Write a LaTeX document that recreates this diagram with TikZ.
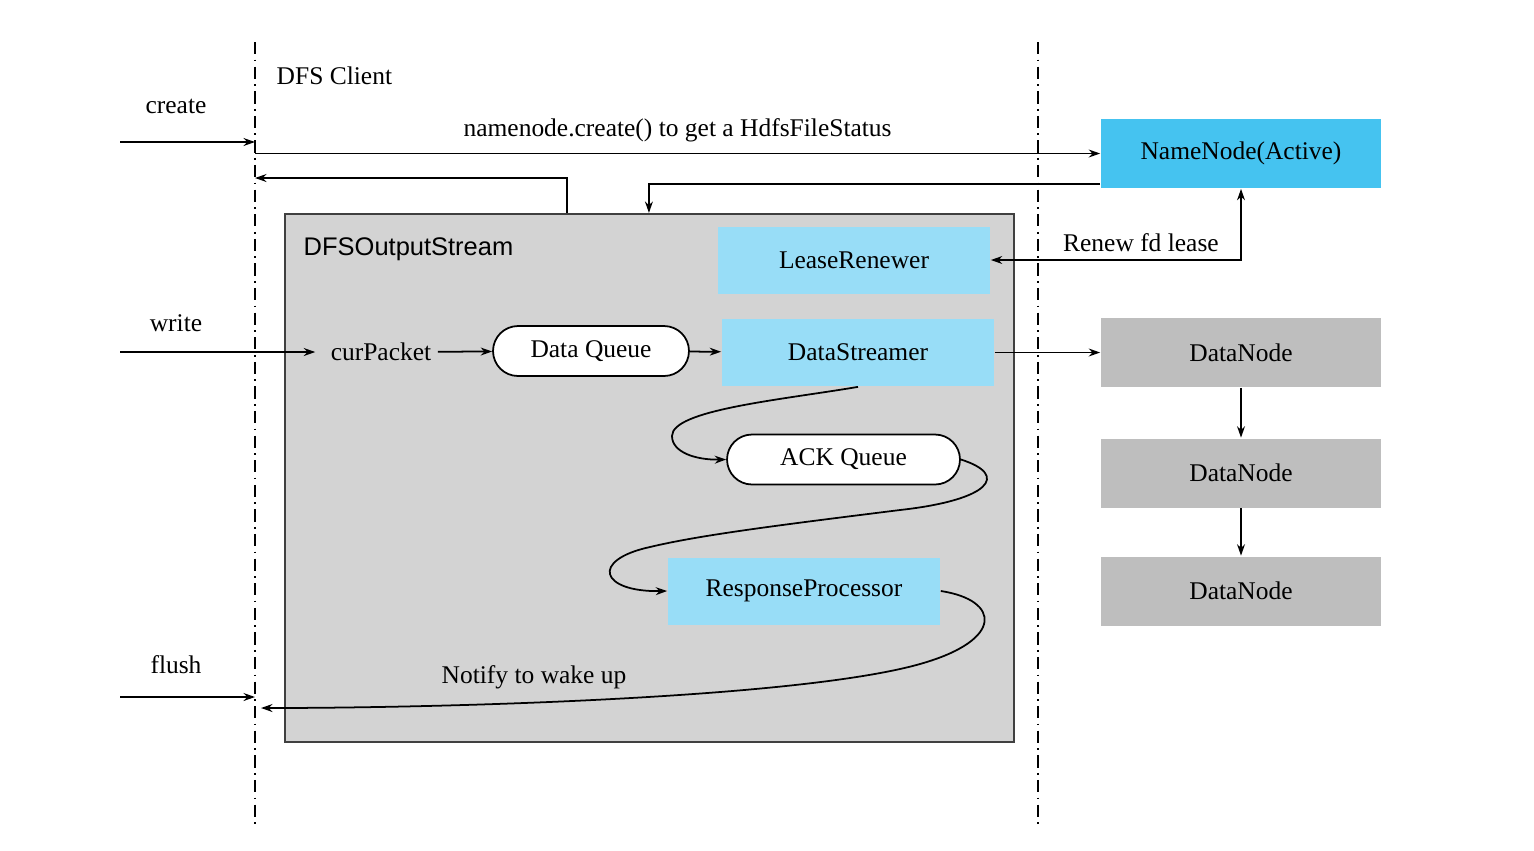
\documentclass[tikz,border=0pt]{standalone}
\usepackage{fontspec}
\setmainfont{Liberation Serif}
\setsansfont{Liberation Sans}
\usetikzlibrary{calc, arrows.meta}
\definecolor{nnblue}{HTML}{45C3F0}
\definecolor{threadblue}{HTML}{98DDF7}
\definecolor{boxgray}{HTML}{D3D3D3}
\definecolor{dngray}{HTML}{BEBEBE}
\begin{document}
\begin{tikzpicture}[x=0.02cm, y=-0.02cm, font=\fontsize{14.5}{17}\selectfont, >={Stealth[length=6.5pt, width=4.5pt]}, line width=1pt,
		lifeline/.style={line width=.8pt, dash pattern=on 7pt off 3pt on 1pt off 3pt},
		dosbox/.style={draw=black!75, line width=1.3pt, fill=boxgray, minimum width=14.58cm, minimum height=10.56cm, inner sep=0pt},
		thread/.style={fill=threadblue, minimum width=5.44cm, minimum height=1.34cm},
		queue/.style={draw, fill=white, rounded corners=.5cm, minimum height=1cm},
		nnbox/.style={fill=nnblue, minimum width=5.6cm, minimum height=1.38cm},
		dnbox/.style={fill=dngray, minimum width=5.6cm, minimum height=1.38cm}]
		\useasboundingbox (0,0) rectangle (1534,850);
		% lifelines
		\foreach \x in {255, 1038}{
			\draw[lifeline] (\x,42) -- (\x,825);}
		\coordinate (client) at (255,0);
		\node[anchor=west] (dfsc) at (270,76) {DFS Client};
		\foreach \y/\name/\ty in {142/create/106, 352/write/323, 697/flush/665}{
			\node (\name) at (176,\ty) {\name};
			\coordinate (\name-in) at (120,\y);}
		% output stream
		\node[dosbox] (dos) at (649.5,478) {};
		\node[anchor=west, font=\fontsize{14.5}{17}\selectfont\sffamily] (dosl) at (297,249) {DFSOutputStream};
		\node[thread] (lr) at (854,260) {LeaseRenewer};
		\node[thread] (ds) at (858,352.5) {DataStreamer};
		\node[thread] (rp) at (804,591) {ResponseProcessor};
		\node (cp) at (381,352) {curPacket};
		\node[queue, minimum width=3.92cm] (dq) at (591,351) {Data Queue};
		\node[queue, minimum width=4.66cm] (aq) at (843.5,459.5) {ACK Queue};
		% cluster
		\node[nnbox] (nn) at (1241,153.5) {NameNode(Active)};
		\foreach \i/\y in {1/352.5, 2/473, 3/591}{
			\node[dnbox] (dn\i) at (1241,\y) {DataNode};}
		\foreach \i/\j in {1/2, 2/3}{
			\draw[->] (dn\i) -- (dn\j);}
		\coordinate (wake) at (261,708);
		% connectors
		\draw[->] (create-in) -- (client |- create-in);
		\draw[->] (write-in) -- ([xshift=-5pt]cp.west);
		\draw[->] (flush-in) -- (client |- flush-in);
		\draw[->] (client |- nn.west) -- node[above=3pt] {namenode.create() to get a HdfsFileStatus} (nn.west);
		\draw[->] ($(nn.south west)+(0,-5)$) -| ($(dos.north west)+(365,0)$);
		\draw[->] ($(dos.north west)+(283,0)$) |- (client |- 0,178);
		\draw[<->] (lr.east) -| node[pos=.3, above=1pt] {Renew fd lease} (nn.south);
		\draw[->] (cp) -- (dq);
		\draw[->] (dq) -- (ds);
		\draw[->] (ds) -- (dn1);
		\draw[->] (ds.south) .. controls (780,400) and (672,410) .. (672,436) .. controls (672,452) and (695,460) .. (aq.west);
		\draw[->] (aq.east) .. controls (1010,475) and (990,500) .. (900,510) .. controls (780,525) and (700,535) .. (650,547) .. controls (590,560) and (600,592) .. (rp.west);
		\draw[->] (rp.east) .. controls (1000,600) and (1005,640) .. (920,664) .. controls (800,698) and (450,708) .. (wake);
		\node (notify) at (534,677) {Notify to wake up};
		\end{tikzpicture}
\end{document}
